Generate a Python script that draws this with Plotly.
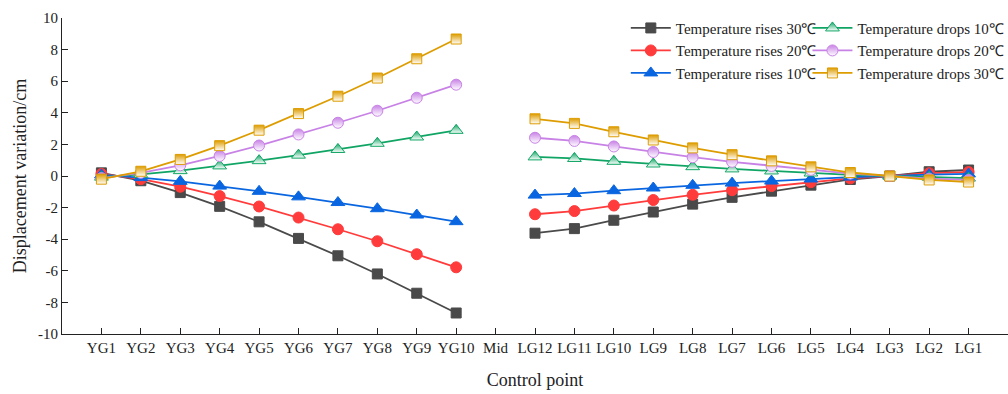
import plotly.graph_objects as go

categories = ["YG1", "YG2", "YG3", "YG4", "YG5", "YG6", "YG7", "YG8", "YG9", "YG10", "Mid",
              "LG12", "LG11", "LG10", "LG9", "LG8", "LG7", "LG6", "LG5", "LG4", "LG3", "LG2", "LG1"]

rises_30 = [0.20, -0.30, -1.05, -1.92, -2.90, -3.95, -5.05, -6.20, -7.42, -8.67, None,
            -3.62, -3.33, -2.80, -2.28, -1.78, -1.35, -0.96, -0.58, -0.22, 0.0, 0.27, 0.38]
rises_20 = [0.13, -0.20, -0.68, -1.27, -1.93, -2.63, -3.37, -4.13, -4.95, -5.78, None,
            -2.42, -2.22, -1.87, -1.52, -1.19, -0.90, -0.64, -0.39, -0.15, 0.0, 0.18, 0.25]
rises_10 = [0.07, -0.10, -0.34, -0.64, -0.97, -1.32, -1.68, -2.07, -2.47, -2.89, None,
            -1.21, -1.11, -0.93, -0.76, -0.59, -0.45, -0.32, -0.19, -0.07, 0.0, 0.09, 0.13]
drops_10 = [-0.07, 0.10, 0.34, 0.64, 0.97, 1.32, 1.68, 2.07, 2.47, 2.89, None,
            1.21, 1.11, 0.93, 0.76, 0.59, 0.45, 0.32, 0.19, 0.07, 0.0, -0.08, -0.13]
drops_20 = [-0.13, 0.20, 0.68, 1.27, 1.93, 2.63, 3.37, 4.13, 4.95, 5.78, None,
            2.42, 2.22, 1.87, 1.52, 1.19, 0.90, 0.64, 0.39, 0.15, 0.0, -0.17, -0.25]
drops_30 = [-0.20, 0.30, 1.05, 1.92, 2.90, 3.95, 5.05, 6.20, 7.42, 8.67, None,
            3.62, 3.33, 2.80, 2.28, 1.78, 1.35, 0.96, 0.58, 0.22, 0.0, -0.25, -0.38]

y_ticks = [-10, -8, -6, -4, -2, 0, 2, 4, 6, 8, 10]
y_ticktext = [str(v) for v in y_ticks]

FONT = "Liberation Serif"
x_idx = list(range(len(categories)))

series = [
    ("Temperature rises 30℃", rises_30, "#4a4a4a", "square", 10, False, "legend"),
    ("Temperature rises 20℃", rises_20, "#ff3b3b", "circle", 11, False, "legend"),
    ("Temperature rises 10℃", rises_10, "#0a66e0", "triangle-up", 12, False, "legend"),
    ("Temperature drops 10℃", drops_10, "#10a564", "triangle-up", 12, True, "legend2"),
    ("Temperature drops 20℃", drops_20, "#c882e6", "circle", 11, True, "legend2"),
    ("Temperature drops 30℃", drops_30, "#dd9c00", "square", 10, True, "legend2"),
]

fig = go.Figure()
for name, vals, col, sym, size, half, leg in series:
    marker = dict(symbol=sym, size=size, color=col, line=dict(color=col, width=1))
    if half:
        marker["gradient"] = dict(type="vertical", color="white")
    fig.add_trace(go.Scatter(
        x=x_idx, y=vals, name=name, mode="lines+markers",
        line=dict(color=col, width=1.8), marker=marker, legend=leg,
    ))

fig.update_layout(
    width=1008, height=394,
    margin=dict(l=62, r=0, t=18, b=60, autoexpand=False),
    paper_bgcolor="white", plot_bgcolor="white",
    font=dict(family=FONT, size=15, color="#222"),
    legend=dict(x=0.596, y=1.02, xanchor="left", yanchor="top", bgcolor="rgba(0,0,0,0)",
                font=dict(family=FONT, size=15), tracegroupgap=0, itemwidth=40),
    legend2=dict(x=0.788, y=1.02, xanchor="left", yanchor="top", bgcolor="rgba(0,0,0,0)",
                 font=dict(family=FONT, size=15), tracegroupgap=0, itemwidth=40),
)
fig.update_xaxes(
    range=[-1, len(categories)], tickmode="array", tickvals=x_idx, ticktext=categories,
    showline=True, linecolor="#222", linewidth=1.2, ticks="inside", ticklen=6,
    tickcolor="#222", showgrid=False, zeroline=False, automargin=False,
    title=dict(text="Control point", font=dict(family=FONT, size=18), standoff=18),
    tickfont=dict(family=FONT, size=15),
)
fig.update_yaxes(
    range=[-10, 10], tickmode="array", tickvals=y_ticks, ticktext=y_ticktext,
    showline=True, linecolor="#222", linewidth=1.2, ticks="inside", ticklen=6,
    tickcolor="#222", showgrid=False, zeroline=False, automargin=False,
    title=dict(text="Displacement variation/cm", font=dict(family=FONT, size=18), standoff=6),
    tickfont=dict(family=FONT, size=15),
)

fig.write_html("out.html")
